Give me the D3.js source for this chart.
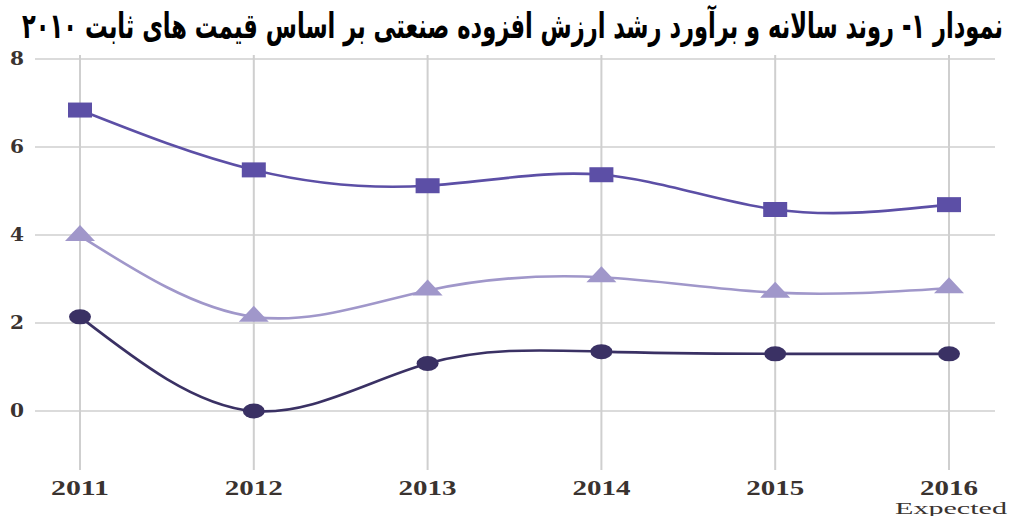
<!DOCTYPE html>
<html lang="fa">
<head>
<meta charset="utf-8">
<title>نمودار ۱</title>
<script src="https://d3js.org/d3.v7.min.js"></script>
<style>
  body { margin: 0; background: #fff; }
  svg { display: block; }
</style>
</head>
<body>
<div id="chart"></div>
<script>
// data
var years = ["2011", "2012", "2013", "2014", "2015", "2016"];
var squareSeries = [6.84, 5.48, 5.12, 5.37, 4.58, 4.69];
var triangleSeries = [3.98, 2.14, 2.74, 3.04, 2.69, 2.79];
var circleSeries = [2.14, 0.0, 1.08, 1.35, 1.30, 1.30];
var yTicks = [0, 2, 4, 6, 8];
var title = "نمودار ۱- روند سالانه و برآورد رشد ارزش افزوده صنعتی بر اساس قیمت های ثابت ۲۰۱۰";

var width = 1012, height = 516;

var svg = d3.select("#chart").append("svg")
    .attr("width", width)
    .attr("height", height);

var x = d3.scalePoint().domain(years).range([80, 949]);
var y = d3.scaleLinear().domain([-1.34, 8]).range([470, 59]);

// grid
svg.append("g").selectAll("line").data(yTicks).join("line")
    .attr("x1", 35).attr("x2", 995)
    .attr("y1", function(d) { return y(d); })
    .attr("y2", function(d) { return y(d); })
    .attr("stroke", "#cfcfcf").attr("stroke-width", 1.6);

svg.append("g").selectAll("line").data(years).join("line")
    .attr("x1", function(d) { return x(d); })
    .attr("x2", function(d) { return x(d); })
    .attr("y1", 55).attr("y2", 470)
    .attr("stroke", "#cfcfcf").attr("stroke-width", 2);

// axis labels (the reference is stretched sideways, so widen the text)
svg.append("g").selectAll("text").data(yTicks).join("text")
    .attr("x", 17).attr("y", function(d) { return y(d) + 6; })
    .attr("text-anchor", "middle")
    .attr("font-family", "DejaVu Serif").attr("font-weight", "bold")
    .attr("font-size", 18).attr("fill", "#3a3330")
    .attr("textLength", 14).attr("lengthAdjust", "spacingAndGlyphs")
    .text(function(d) { return d; });

svg.append("g").selectAll("text").data(years).join("text")
    .attr("x", function(d) { return x(d); }).attr("y", 495)
    .attr("text-anchor", "middle")
    .attr("font-family", "Liberation Serif").attr("font-weight", "bold")
    .attr("font-size", 20).attr("fill", "#3a3330")
    .attr("textLength", 58).attr("lengthAdjust", "spacingAndGlyphs")
    .text(function(d) { return d; });

svg.append("text")
    .attr("x", x("2016") + 2).attr("y", 514)
    .attr("text-anchor", "middle")
    .attr("font-family", "Liberation Serif")
    .attr("font-size", 16).attr("fill", "#3a3330")
    .attr("textLength", 112).attr("lengthAdjust", "spacingAndGlyphs")
    .text("Expected");

// lines
var line = d3.line()
    .x(function(d, i) { return x(years[i]); })
    .y(function(d) { return y(d); })
    .curve(d3.curveNatural);

var series = [
    { values: squareSeries, color: "#5c4fa6", shape: "square" },
    { values: triangleSeries, color: "#a097ca", shape: "triangle" },
    { values: circleSeries, color: "#3a3164", shape: "circle" }
];

series.forEach(function(s) {
    svg.append("path")
        .datum(s.values)
        .attr("d", line)
        .attr("fill", "none")
        .attr("stroke", s.color)
        .attr("stroke-width", 2.6);
});

series.forEach(function(s) {
    var g = svg.append("g").attr("fill", s.color);
    s.values.forEach(function(v, i) {
        var cx = x(years[i]), cy = y(v);
        if (s.shape === "square") {
            g.append("rect").attr("x", cx - 12).attr("y", cy - 7.5)
                .attr("width", 24).attr("height", 15);
        } else if (s.shape === "circle") {
            g.append("ellipse").attr("cx", cx).attr("cy", cy)
                .attr("rx", 11).attr("ry", 7.5);
        } else {
            g.append("path").attr("d",
                "M" + (cx - 15) + "," + (cy + 5) +
                "L" + (cx + 15) + "," + (cy + 5) +
                "L" + cx + "," + (cy - 11) + "Z");
        }
    });
});

// title
svg.append("text")
    .attr("x", 1003).attr("y", 38)
    .attr("direction", "rtl")
    .attr("text-anchor", "start")
    .attr("font-family", "DejaVu Sans Condensed, DejaVu Sans")
    .attr("font-weight", "bold")
    .attr("font-size", 35)
    .attr("fill", "#000")
    .attr("textLength", 981)
    .attr("lengthAdjust", "spacingAndGlyphs")
    .text(title);
</script>
</body>
</html>
